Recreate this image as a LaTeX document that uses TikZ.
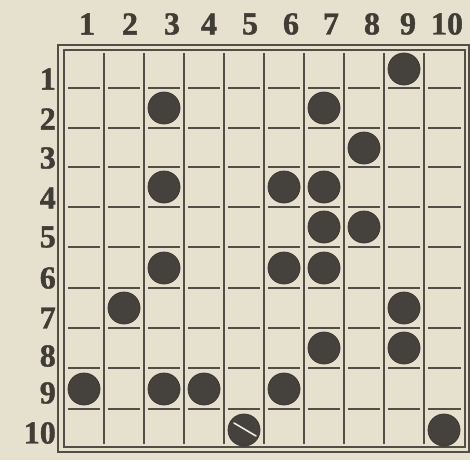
\documentclass[tikz,border=0pt]{standalone}
\usepackage{fontspec}
\setmainfont{Liberation Serif}[BoldFeatures={FakeBold=1.3}]
\definecolor{paper}{HTML}{E6E0CE}
\definecolor{ink}{HTML}{524D45}
\definecolor{disc}{HTML}{45423D}
\definecolor{labelink}{HTML}{403C36}
\begin{document}
\begin{tikzpicture}[x=1pt,y=-1pt,
  lbl/.style={inner sep=0pt, font=\fontsize{32}{32}\selectfont\bfseries, text=labelink},
  stone/.style={circle, fill=disc, draw=disc!85!black, line width=0.8pt, minimum size=32pt, inner sep=0pt},
  gridv/.style={draw=ink, line width=2.1pt},
  gridh/.style={draw=ink, line width=2.4pt},
  frame/.style={draw=ink, line width=1.9pt}]
\useasboundingbox (0,0) rectangle (470,460);
\fill[paper] (0,0) rectangle (470,460);
% double frame
\draw[frame] (58,45) rectangle (469,452);
\draw[frame, line width=1.6pt] (64,50) rectangle (465,447);
% vertical lines (continuous)
\foreach \x in {104,144,184,224,264,304,344,384,424}
  \draw[gridv] (\x,53) -- (\x,444);
% horizontal lines (broken at the verticals)
\foreach \y in {88,128,167,207,247,288,328,368,409}
  \foreach \xl/\xr in {64/104,104/144,144/184,184/224,224/264,264/304,304/344,344/384,384/424,424/465}
    \draw[gridh] (\xl+4,\y) -- (\xr-4,\y);
% stones
\foreach \c/\r in {9/1,3/2,7/2,8/3,3/4,6/4,7/4,7/5,8/5,3/6,6/6,7/6,2/7,9/7,7/8,9/8,1/9,3/9,4/9,6/9,5/10,10/10} {
  \pgfmathsetmacro\px{84+40*(\c-1)}
  \pgfmathsetmacro\py{{69,108,148,187,227,268,308,348,389,430}[\r-1]}
  \node[stone] (s\c-\r) at (\px,\py) {};
}
\draw[paper!70!white, line width=1.6pt, line cap=round] (s5-10.center) ++(-10,-7) -- ++(22,13);
% column labels
\foreach \t/\x in {1/87,2/130,3/172,4/209,5/250,6/291,7/331,8/372,9/408,10/447}
  \node[lbl] (c\t) at (\x,24) {\t};
% row labels
\foreach \t/\y in {1/79,2/119,3/158,4/198,5/237,6/278,7/318,8/356,9/393,10/433}
  \node[lbl, anchor=east] (r\t) at (56,\y) {\t};
\end{tikzpicture}
\end{document}
